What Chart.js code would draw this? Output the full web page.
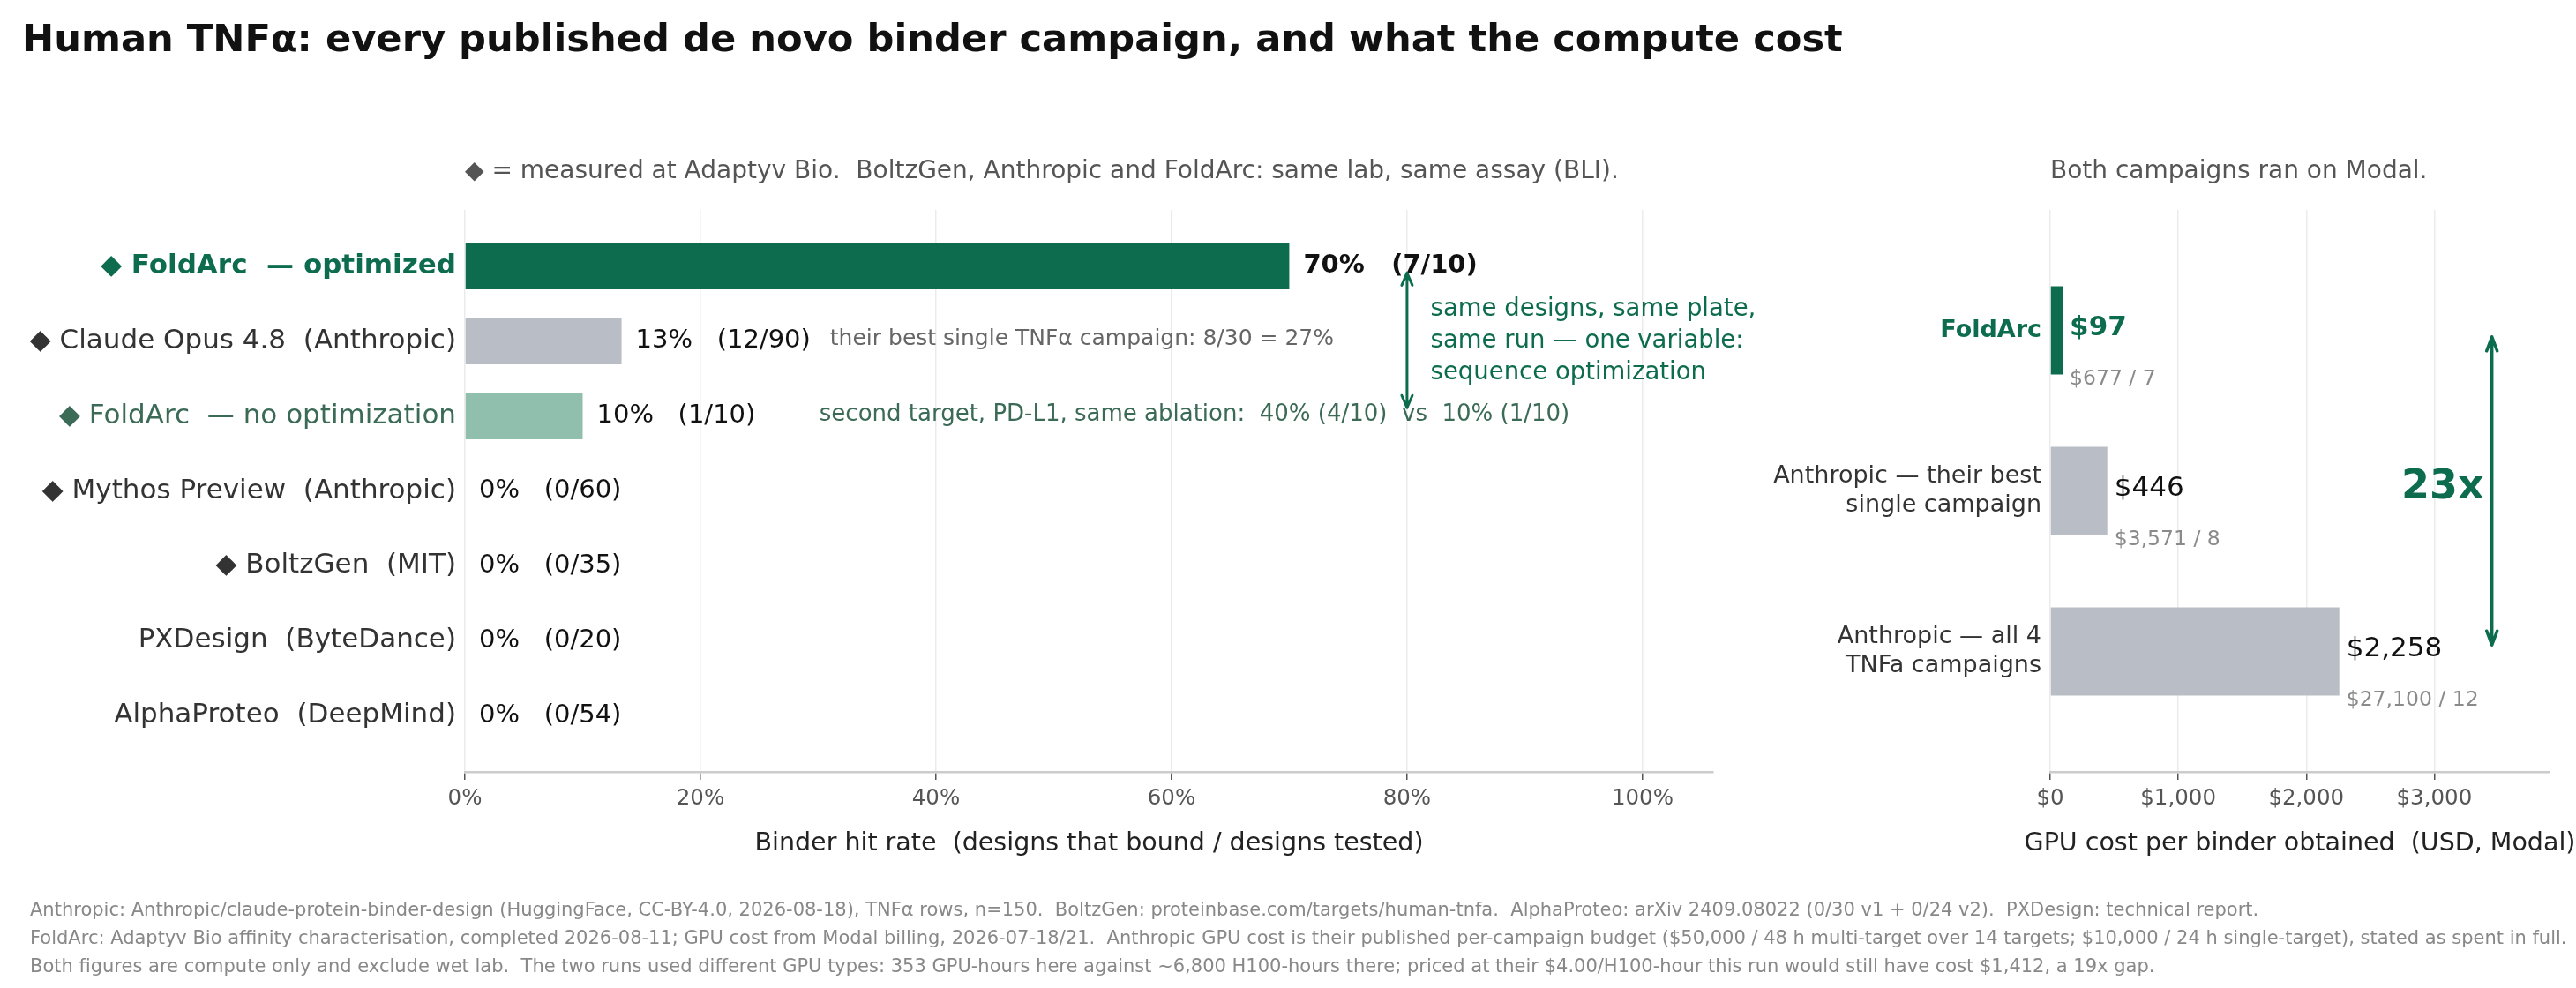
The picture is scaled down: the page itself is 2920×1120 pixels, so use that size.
<!DOCTYPE html>
<html>
<head>
<meta charset="utf-8">
<script src="https://cdn.jsdelivr.net/npm/chart.js@4.4.0/dist/chart.umd.min.js"></script>
<style>
  html, body { margin: 0; padding: 0; background: #ffffff; }
  #wrap { position: relative; width: 2920px; height: 1120px; overflow: hidden; }
  #wrap canvas { position: absolute; left: 0; top: 0; }
</style>
</head>
<body>
<div id="wrap">
  <canvas id="c1" width="2920" height="1120"></canvas>
  <canvas id="c2" width="2920" height="1120"></canvas>
</div>
<script>
// ---------------- DATA ----------------
const categories = [
  '◆ FoldArc  — optimized',
  '◆ Claude Opus 4.8  (Anthropic)',
  '◆ FoldArc  — no optimization',
  '◆ Mythos Preview  (Anthropic)',
  '◆ BoltzGen  (MIT)',
  'PXDesign  (ByteDance)',
  'AlphaProteo  (DeepMind)'
];
const hits   = [7, 12, 1, 0, 0, 0, 0];
const tested = [10, 90, 10, 60, 35, 20, 54];
const hitRate = [70, 13.3, 10, 0, 0, 0, 0];
const rateTicks = [0, 20, 40, 60, 80, 100];

const costCategories = [
  ['FoldArc'],
  ['Anthropic — their best', 'single campaign'],
  ['Anthropic — all 4', 'TNFa campaigns']
];
const costPerBinder   = [97, 446, 2258];
const campaignCost    = [677, 3571, 27100];
const bindersObtained = [7, 8, 12];
const costTicks = [0, 1000, 2000, 3000];

const titleText = 'Human TNFα: every published de novo binder campaign, and what the compute cost';
const leftHeader = '◆ = measured at Adaptyv Bio.  BoltzGen, Anthropic and FoldArc: same lab, same assay (BLI).';
const rightHeader = 'Both campaigns ran on Modal.';
const leftAxisTitle = 'Binder hit rate  (designs that bound / designs tested)';
const rightAxisTitle = 'GPU cost per binder obtained  (USD, Modal)';
const footnotes = [
  'Anthropic: Anthropic/claude-protein-binder-design (HuggingFace, CC-BY-4.0, 2026-08-18), TNFα rows, n=150.  BoltzGen: proteinbase.com/targets/human-tnfa.  AlphaProteo: arXiv 2409.08022 (0/30 v1 + 0/24 v2).  PXDesign: technical report.',
  'FoldArc: Adaptyv Bio affinity characterisation, completed 2026-08-11; GPU cost from Modal billing, 2026-07-18/21.  Anthropic GPU cost is their published per-campaign budget ($50,000 / 48 h multi-target over 14 targets; $10,000 / 24 h single-target), stated as spent in full.',
  'Both figures are compute only and exclude wet lab.  The two runs used different GPU types: 353 GPU-hours here against ~6,800 H100-hours there; priced at their $4.00/H100-hour this run would still have cost $1,412, a 19x gap.'
];
const opusNote = 'their best single TNFα campaign: 8/30 = 27%';
const ablationNote = 'second target, PD-L1, same ablation:  40% (4/10)  vs  10% (1/10)';
const optNote = ['same designs, same plate,', 'same run — one variable:', 'sequence optimization'];
const ratioText = '23x';

// ---------------- STYLE ----------------
const FONT = "'DejaVu Sans', 'Liberation Sans', sans-serif";
const GREEN = '#0d6c4e';
const GREEN_LIGHT = '#90bfad';
const SLATE_GREEN = '#3b6a56';
const GREY_BAR = '#b9bdc5';
Chart.defaults.font.family = FONT;

const rateColors = [GREEN, GREY_BAR, GREEN_LIGHT, GREY_BAR, GREY_BAR, GREY_BAR, GREY_BAR];
const labelColors = [GREEN, '#333333', SLATE_GREEN, '#333333', '#333333', '#333333', '#333333'];
const costColors = [GREEN, GREY_BAR, GREY_BAR];

function txt(ctx, s, x, y, font, color, align, base) {
  ctx.save();
  ctx.font = font;
  ctx.fillStyle = color;
  ctx.textAlign = align || 'left';
  ctx.textBaseline = base || 'middle';
  ctx.fillText(s, x, y);
  ctx.restore();
}
function dblArrow(ctx, x, y1, y2, color, lw, hl, hw) {
  ctx.save();
  ctx.strokeStyle = color;
  ctx.lineWidth = lw;
  ctx.lineCap = 'round';
  ctx.lineJoin = 'round';
  ctx.beginPath();
  ctx.moveTo(x, y1); ctx.lineTo(x, y2);
  ctx.moveTo(x - hw, y1 + hl); ctx.lineTo(x, y1); ctx.lineTo(x + hw, y1 + hl);
  ctx.moveTo(x - hw, y2 - hl); ctx.lineTo(x, y2); ctx.lineTo(x + hw, y2 - hl);
  ctx.stroke();
  ctx.restore();
}

const xAxisHeight = 245;

// ---------------- LEFT CHART ----------------
const leftPlugin = {
  id: 'leftAnnot',
  afterDraw(chart) {
    const ctx = chart.ctx;
    const xs = chart.scales.x, ys = chart.scales.y;
    const area = chart.chartArea;
    // title, header, footnotes
    txt(ctx, titleText, 25, 47, 'bold 43.2px ' + FONT, '#111111');
    txt(ctx, leftHeader, area.left, 195, '28px ' + FONT, '#555555');
    footnotes.forEach((f, i) => txt(ctx, f, 34, 1033 + i * 32, '21px ' + FONT, '#888888'));
    // axis title
    txt(ctx, leftAxisTitle, (area.left + area.right) / 2, 957, '28.5px ' + FONT, '#222222', 'center');
    // value labels
    hitRate.forEach((v, i) => {
      const x = xs.getPixelForValue(v) + 16;
      const y = ys.getPixelForValue(i);
      const s = Math.round(hits[i] / tested[i] * 100) + '%   (' + hits[i] + '/' + tested[i] + ')';
      txt(ctx, s, x, y, (i === 0 ? 'bold ' : '') + '29px ' + FONT, '#111111');
    });
    // notes
    txt(ctx, opusNote, xs.getPixelForValue(31), ys.getPixelForValue(1) - 2, '25px ' + FONT, '#666666');
    txt(ctx, ablationNote, xs.getPixelForValue(30.1), ys.getPixelForValue(2) - 1, '26px ' + FONT, SLATE_GREEN);
    // optimisation arrow
    const ax = xs.getPixelForValue(80);
    dblArrow(ctx, ax, ys.getPixelForValue(0.09), ys.getPixelForValue(1.89), GREEN, 3, 14, 6);
    const cy = ys.getPixelForValue(1);
    optNote.forEach((s, i) => txt(ctx, s, xs.getPixelForValue(82), cy + (i - 1) * 36, '27.5px ' + FONT, GREEN));
  }
};

new Chart(document.getElementById('c1'), {
  type: 'bar',
  data: {
    datasets: [{
      data: hitRate.map((v, i) => ({ x: v, y: i })),
      backgroundColor: rateColors,
      borderWidth: 0,
      barPercentage: 0.62,
      categoryPercentage: 1
    }]
  },
  options: {
    indexAxis: 'y',
    responsive: false,
    animation: false,
    devicePixelRatio: 1,
    layout: { padding: { left: 0, right: 2920 - 1942, top: 238, bottom: 0 } },
    plugins: { legend: { display: false }, tooltip: { enabled: false }, title: { display: false } },
    scales: {
      x: {
        type: 'linear', position: 'bottom', min: 0, max: 106, offset: false,
        afterBuildTicks: s => { s.ticks = rateTicks.map(v => ({ value: v })); },
        afterFit: s => { s.height = xAxisHeight; },
        ticks: { callback: v => v + '%', font: { size: 24.5 }, color: '#555555', padding: 7, maxRotation: 0, autoSkip: false },
        grid: { color: '#ebebeb', lineWidth: 1.5, drawTicks: true, tickLength: 9, tickColor: '#555555', tickWidth: 1.5, offset: false },
        border: { display: true, color: '#cccccc', width: 2.5 },
        title: { display: false }
      },
      y: {
        type: 'linear', position: 'left', min: -0.75, max: 6.75, reverse: true, offset: false,
        afterBuildTicks: s => { s.ticks = categories.map((c, i) => ({ value: i })); },
        afterFit: s => { s.width = 527; },
        ticks: {
          autoSkip: false, padding: 10,
          callback: v => categories[v],
          font: c => ({ size: 31, weight: c.tick && c.tick.value === 0 ? 'bold' : 'normal' }),
          color: c => labelColors[c.tick ? c.tick.value : 0]
        },
        grid: { display: false, drawTicks: false, offset: false },
        border: { display: false }
      }
    }
  },
  plugins: [leftPlugin]
});

// ---------------- RIGHT CHART ----------------
const rightPlugin = {
  id: 'rightAnnot',
  afterDraw(chart) {
    const ctx = chart.ctx;
    const xs = chart.scales.x, ys = chart.scales.y;
    const area = chart.chartArea;
    txt(ctx, rightHeader, area.left, 195, '28px ' + FONT, '#555555');
    txt(ctx, rightAxisTitle, (area.left + area.right) / 2, 957, '28.5px ' + FONT, '#222222', 'center');
    costPerBinder.forEach((v, i) => {
      const x = xs.getPixelForValue(v) + 8;
      const y = ys.getPixelForValue(i);
      txt(ctx, '$' + v.toLocaleString('en-US'), x, y - 3, (i === 0 ? 'bold ' : '') + '31px ' + FONT, i === 0 ? GREEN : '#111111');
      txt(ctx, '$' + campaignCost[i].toLocaleString('en-US') + ' / ' + bindersObtained[i], x, y + 55, '23.5px ' + FONT, '#8a8a8a');
    });
    const ax = xs.getPixelForValue(3450);
    dblArrow(ctx, ax, ys.getPixelForValue(0.04), ys.getPixelForValue(1.96), GREEN, 3.5, 16, 6);
    txt(ctx, ratioText, ax - 9, ys.getPixelForValue(1) - 3, 'bold 46px ' + FONT, GREEN, 'right');
  }
};

new Chart(document.getElementById('c2'), {
  type: 'bar',
  data: {
    datasets: [{
      data: costPerBinder.map((v, i) => ({ x: v, y: i })),
      backgroundColor: costColors,
      borderWidth: 0,
      barPercentage: 0.55,
      categoryPercentage: 1
    }]
  },
  options: {
    indexAxis: 'y',
    responsive: false,
    animation: false,
    devicePixelRatio: 1,
    layout: { padding: { left: 2324 - 500, right: 2920 - 2890, top: 238, bottom: 0 } },
    plugins: { legend: { display: false }, tooltip: { enabled: false }, title: { display: false } },
    scales: {
      x: {
        type: 'linear', position: 'bottom', min: 0, max: 3900, offset: false,
        afterBuildTicks: s => { s.ticks = costTicks.map(v => ({ value: v })); },
        afterFit: s => { s.height = xAxisHeight; },
        ticks: { callback: v => '$' + v.toLocaleString('en-US'), font: { size: 24.5 }, color: '#555555', padding: 7, maxRotation: 0, autoSkip: false },
        grid: { color: '#ebebeb', lineWidth: 1.5, drawTicks: true, tickLength: 9, tickColor: '#555555', tickWidth: 1.5, offset: false },
        border: { display: true, color: '#cccccc', width: 2.5 },
        title: { display: false }
      },
      y: {
        type: 'linear', position: 'left', min: -0.75, max: 2.75, reverse: true, offset: false,
        afterBuildTicks: s => { s.ticks = costCategories.map((c, i) => ({ value: i })); },
        afterFit: s => { s.width = 500; },
        ticks: {
          autoSkip: false, padding: 10,
          callback: v => costCategories[v],
          font: c => ({ size: 27, lineHeight: 1.2, weight: c.tick && c.tick.value === 0 ? 'bold' : 'normal' }),
          color: c => (c.tick && c.tick.value === 0) ? GREEN : '#333333'
        },
        grid: { display: false, drawTicks: false, offset: false },
        border: { display: false }
      }
    }
  },
  plugins: [rightPlugin]
});
</script>
</body>
</html>
